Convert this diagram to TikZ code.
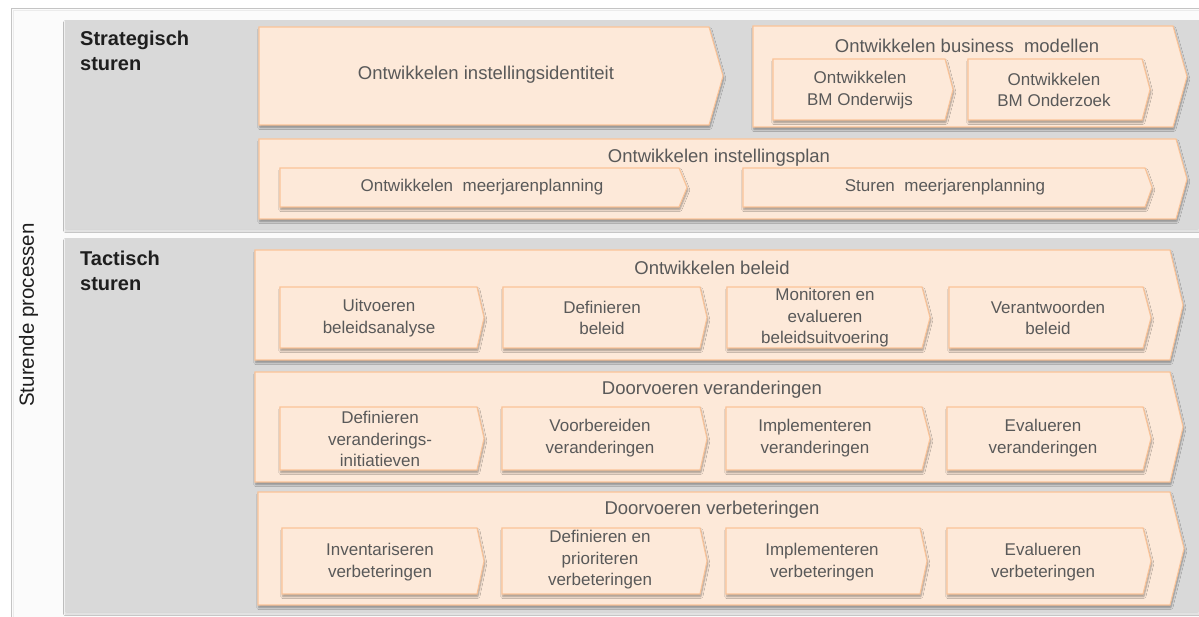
\documentclass[tikz,border=0pt]{standalone}
\usepackage{fontspec}
\setmainfont{Liberation Sans}
\usetikzlibrary{shadows.blur}

\definecolor{panelgray}{HTML}{D9D9D9}
\definecolor{framegray}{HTML}{C4C4C4}
\definecolor{peach}{HTML}{FDE9D9}
\definecolor{peachline}{HTML}{FAC398}
\definecolor{txtgray}{HTML}{595959}
\definecolor{lblblack}{HTML}{1E1E1E}

% chevron: name, x1, y1, x2, y2, tip depth, style
\newcommand{\chev}[7]{%
  \path[#7] (#2,#3) -- (#4,#3) -- ({#4+#6},{(#3+#5)/2}) -- (#4,#5) -- (#2,#5) -- cycle;
  \coordinate (#1) at ({(#2+#4)/2},{(#3+#5)/2});
}

\tikzset{
  chevbox/.style={fill=peach, draw=peachline, line width=1.1pt, line join=miter,
    blur shadow={shadow xshift=0.8pt, shadow yshift=-2.5pt, shadow blur steps=6,
      shadow blur radius=2pt, shadow opacity=38}},
  panel/.style={fill=panelgray, draw=none,
    blur shadow={shadow xshift=0pt, shadow yshift=-2pt, shadow blur steps=4,
      shadow blur radius=1.5pt, shadow opacity=15}},
  ttl/.style={text=txtgray, font=\fontsize{18.5}{22}\selectfont, inner sep=0pt, align=center},
  txt/.style={text=txtgray, font=\fontsize{17}{21.5}\selectfont, inner sep=0pt, align=center},
  lbl/.style={text=lblblack, font=\bfseries\fontsize{20}{25}\selectfont, inner sep=0pt, align=left, anchor=north west},
}

\begin{document}
\begin{tikzpicture}[x=1pt, y=-1pt]
  \useasboundingbox (0,0) rectangle (1199,617);
  \fill[white] (0,0) rectangle (1199,617);

  % outer frame
  \fill[black!1.5] (11,9) rectangle (1199,617);
  \draw[framegray, line width=1.6pt] (11.5,617) -- (11.5,8.5) -- (1199,8.5);
  \draw[black!8, line width=0.8pt] (13,617) -- (13,10.3) -- (1199,10.3);

  % background panels
  \path[panel] (65,20) rectangle (1199,229);
  \path[panel] (65,238) rectangle (1199,612);

  % side label
  \node[rotate=90, text=lblblack, font=\fontsize{20.5}{24}\selectfont, inner sep=0pt] (side) at (28.5,315) {Sturende processen};

  % level labels
  \node[lbl] (strat) at (80,31) {Strategisch\\sturen};
  \node[lbl] (tact) at (80,251) {Tactisch\\sturen};

  % strategic level
  \chev{a}{259}{27}{709}{125}{14}{chevbox}
  \node[ttl] (ta) at (486,75) {Ontwikkelen instellingsidentiteit};

  \chev{b}{753}{26}{1173}{127}{14}{chevbox}
  \node[ttl] (tb) at (967,46) {Ontwikkelen business~ modellen};
  \chev{b1}{773}{59}{945}{120}{8}{chevbox}
  \node[txt] (tb1) at (860,90) {Ontwikkelen\\BM Onderwijs};
  \chev{b2}{968}{59}{1142}{120}{8}{chevbox}
  \node[txt] (tb2) at (1054,90) {Ontwikkelen\\BM Onderzoek};

  \chev{c}{259}{139}{1176}{219}{11}{chevbox}
  \node[ttl] (tc) at (719,158) {Ontwikkelen instellingsplan};
  \chev{c1}{280}{168}{679}{207}{8}{chevbox}
  \node[txt] (tc1) at (482,187) {Ontwikkelen~ meerjarenplanning};
  \chev{c2}{743}{168}{1145}{207}{7}{chevbox}
  \node[txt] (tc2) at (945,187) {Sturen~ meerjarenplanning};

  % tactical level: policy
  \chev{d}{255}{250}{1170}{360}{13}{chevbox}
  \node[ttl] (td) at (712,268) {Ontwikkelen beleid};
  \chev{d1}{280}{287}{477}{348}{7}{chevbox}
  \node[txt] (td1) at (379,318) {Uitvoeren\\beleidsanalyse};
  \chev{d2}{503}{287}{700}{348}{7}{chevbox}
  \node[txt] (td2) at (602,318) {Definieren\\beleid};
  \chev{d3}{727}{287}{922}{348}{8}{chevbox}
  \node[txt] (td3) at (825,318) {Monitoren en\\evalueren\\beleidsuitvoering};
  \chev{d4}{949}{287}{1143}{348}{8}{chevbox}
  \node[txt] (td4) at (1048,318) {Verantwoorden\\beleid};

  % tactical level: changes
  \chev{e}{255}{372}{1170}{482}{13}{chevbox}
  \node[ttl] (te) at (712,390) {Doorvoeren veranderingen};
  \chev{e1}{280}{407}{477}{470}{7}{chevbox}
  \node[txt] (te1) at (380,439) {Definieren\\veranderings-\\initiatieven};
  \chev{e2}{502}{407}{700}{470}{7}{chevbox}
  \node[txt] (te2) at (600,438) {Voorbereiden\\veranderingen};
  \chev{e3}{726}{407}{922}{470}{8}{chevbox}
  \node[txt] (te3) at (815,438) {Implementeren\\veranderingen};
  \chev{e4}{947}{407}{1143}{470}{8}{chevbox}
  \node[txt] (te4) at (1043,438) {Evalueren\\veranderingen};

  % tactical level: improvements
  \chev{f}{258}{492}{1170}{605}{14}{chevbox}
  \node[ttl] (tf) at (712,510) {Doorvoeren verbeteringen};
  \chev{f1}{282}{528}{477}{594}{7}{chevbox}
  \node[txt] (tf1) at (380,562) {Inventariseren\\verbeteringen};
  \chev{f2}{502}{528}{700}{594}{7}{chevbox}
  \node[txt] (tf2) at (600,560) {Definieren en\\prioriteren\\verbeteringen};
  \chev{f3}{726}{528}{920}{594}{7}{chevbox}
  \node[txt] (tf3) at (822,562) {Implementeren\\verbeteringen};
  \chev{f4}{947}{528}{1143}{594}{8}{chevbox}
  \node[txt] (tf4) at (1043,562) {Evalueren\\verbeteringen};
\end{tikzpicture}
\end{document}
